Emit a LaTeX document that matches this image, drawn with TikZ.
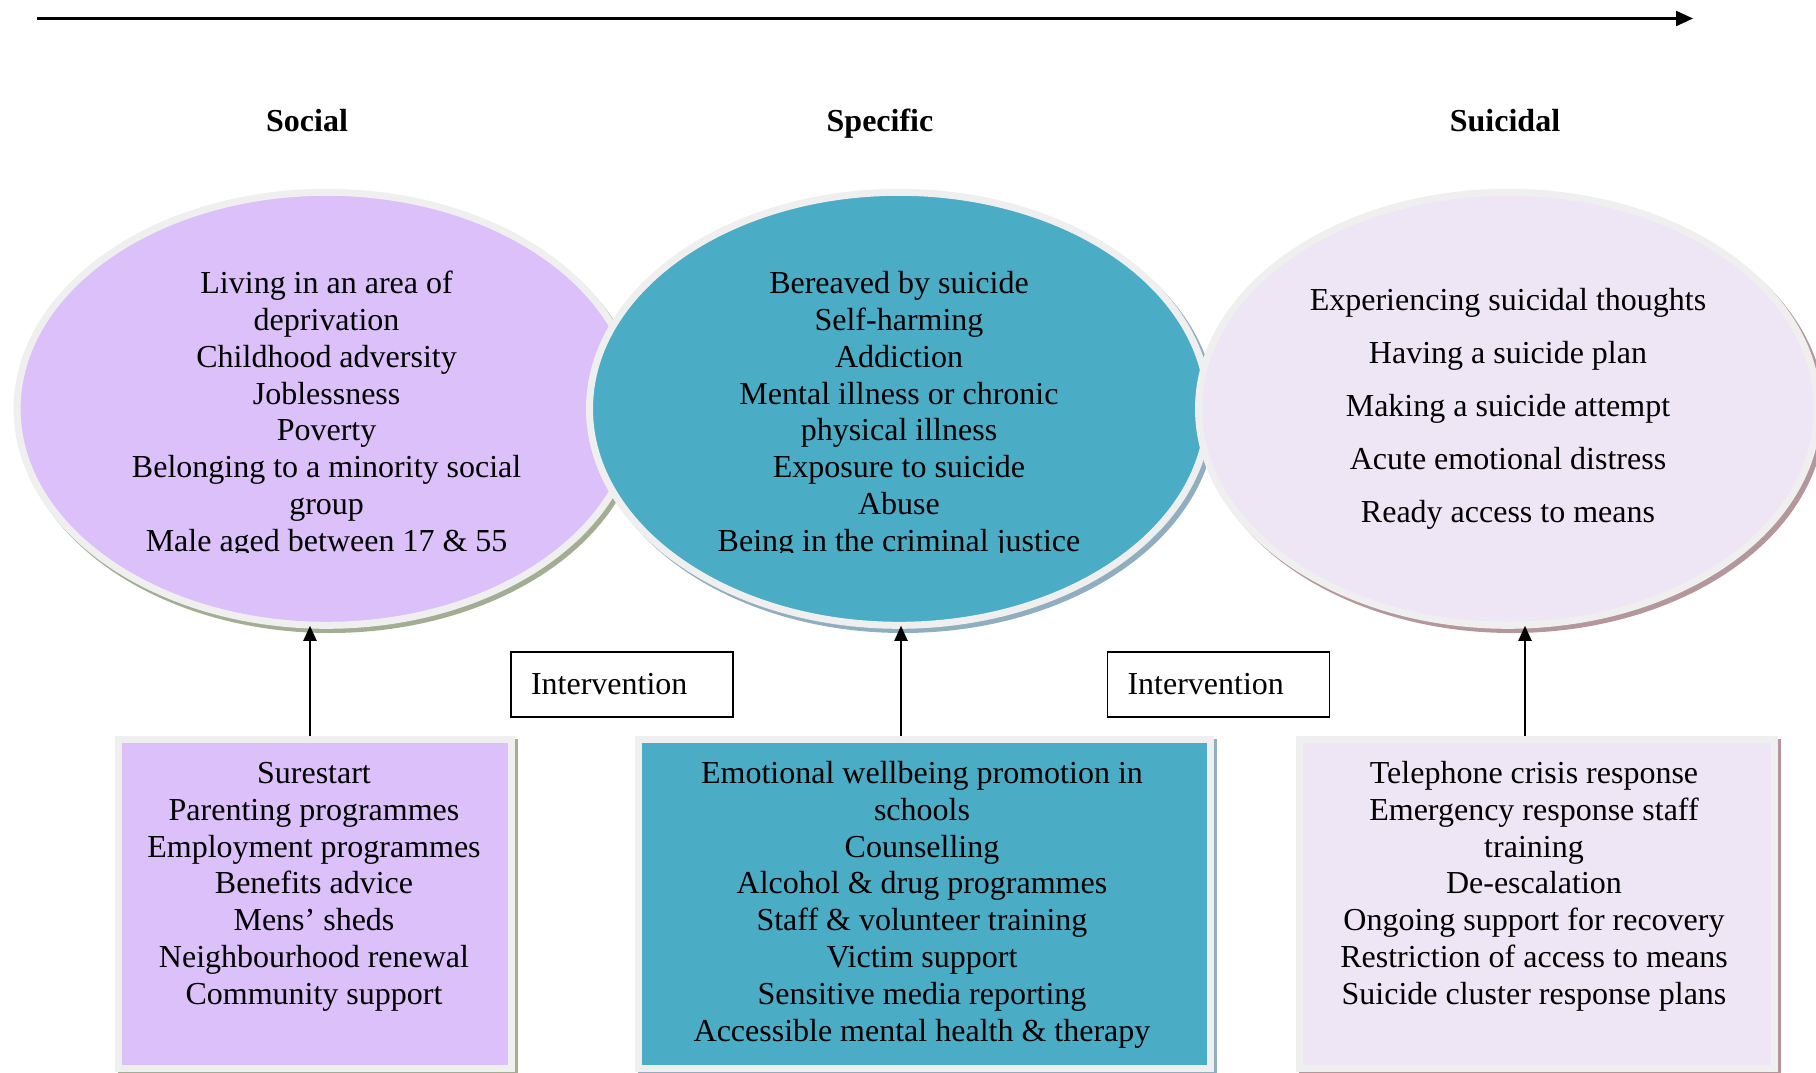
\documentclass[tikz,border=0pt]{standalone}
\usepackage{fontspec}
\setmainfont{Liberation Serif}
\usetikzlibrary{shapes.geometric,arrows.meta,calc}
\definecolor{cpurple}{HTML}{DCC0FA}
\definecolor{cteal}{HTML}{4BACC6}
\definecolor{clav}{HTML}{EEE6F5}
\definecolor{cgrey}{HTML}{EFEFEF}
\definecolor{shpurple}{HTML}{A3AD93}
\definecolor{shteal}{HTML}{8FAFC0}
\definecolor{shlav}{HTML}{B3979C}
\begin{document}
\begin{tikzpicture}[x=1pt,y=-1pt,
  ell/.style={ellipse, draw=cgrey, line width=7pt, minimum width=619pt, minimum height=433pt, inner sep=0pt},
  ellsh/.style={ellipse, minimum width=626pt, minimum height=440pt, inner sep=0pt},
  bx/.style={rectangle, draw=cgrey, line width=7pt, inner sep=0pt},
  etext/.style={align=center, font=\fontsize{32}{36.8}\selectfont, inner sep=0pt, anchor=base},
  ttl/.style={font=\fontsize{32}{38}\selectfont\bfseries, inner sep=0pt, anchor=base},
  ivbox/.style={draw=black, line width=1.5pt, minimum width=222pt, minimum height=65pt, text width=182pt, align=left, inner xsep=20pt, inner ysep=0pt, font=\fontsize{32}{38}\selectfont},
  arr/.style={line width=2pt, -{Triangle[length=15pt,width=13pt]}, shorten >=-3pt},
  toparr/.style={line width=2.2pt, -{Triangle[length=17pt,width=15pt]}}
]
\useasboundingbox (0,0) rectangle (1816,1073);
% top arrow
\coordinate (tl) at (37,18.5);
\coordinate (tr) at (1693,18.5);
\draw[toparr] (tl) -- (tr);
% titles
\node[ttl] (h1) at (307,131.2) {Social};
\node[ttl] (h2) at (880,131.2) {Specific};
\node[ttl] (h3) at (1505,131.2) {Suicidal};
% ellipse 1
\node[ellsh, fill=shpurple] (e1s) at (330,413) {};
\node[ell, fill=cpurple] (e1) at (326.6,408.8) {};
\begin{scope}
\clip (0,0) rectangle (1816,552);
\node[etext] (t1) at (326.6,551.2) {Living in an area of\\deprivation\\Childhood adversity\\Joblessness\\Poverty\\Belonging to a minority social\\group\\Male aged between 17 \& 55};
\end{scope}
% ellipse 2
\node[ellsh, fill=shteal] (e2s) at (903,413) {};
\node[ell, fill=cteal] (e2) at (899,408.8) {};
\begin{scope}
\clip (0,0) rectangle (1816,552);
\node[etext] (t2) at (899,551.2) {Bereaved by suicide\\Self-harming\\Addiction\\Mental illness or chronic\\physical illness\\Exposure to suicide\\Abuse\\Being in the criminal justice};
\end{scope}
% ellipse 3
\node[ellsh, fill=shlav] (e3s) at (1512,413) {};
\node[ell, fill=clav] (e3) at (1508,408.8) {};
\node[etext, font=\fontsize{32}{53}\selectfont] (t3) at (1508,522.4) {Experiencing suicidal thoughts\\Having a suicide plan\\Making a suicide attempt\\Acute emotional distress\\Ready access to means};
% intervention boxes
\node[ivbox] (i1) at (622,684.5) {Intervention};
\node[ivbox] (i2) at (1218.5,684.5) {Intervention};
% bottom boxes
\node[bx, fill=shpurple, minimum width=400pt, minimum height=336pt, draw=none] (b1s) at (318,907) {};
\node[bx, fill=cpurple, minimum width=393pt, minimum height=329pt] (b1) at (315,904) {};
\node[etext] (bt1) at (314,1004.3) {Surestart\\Parenting programmes\\Employment programmes\\Benefits advice\\Mens’ sheds\\Neighbourhood renewal\\Community support};
\node[bx, fill=shteal, minimum width=579pt, minimum height=336pt, draw=none] (b2s) at (927.5,907) {};
\node[bx, fill=cteal, minimum width=572pt, minimum height=329pt] (b2) at (924.5,904) {};
\node[etext] (bt2) at (922,1041.1) {Emotional wellbeing promotion in\\schools\\Counselling\\Alcohol \& drug programmes\\Staff \& volunteer training\\Victim support\\Sensitive media reporting\\Accessible mental health \& therapy};
\node[bx, fill=shlav, minimum width=482pt, minimum height=336pt, draw=none] (b3s) at (1540,907) {};
\node[bx, fill=clav, minimum width=475pt, minimum height=329pt] (b3) at (1537,904) {};
\node[etext] (bt3) at (1534,1004.3) {Telephone crisis response\\Emergency response staff\\training\\De-escalation\\Ongoing support for recovery\\Restriction of access to means\\Suicide cluster response plans};
% arrows
\draw[arr] ([xshift=-5pt]b1.north) -- ([xshift=-5pt]b1.north |- e1.south);
\draw[arr] ([xshift=-23.5pt]b2.north) -- ([xshift=-23.5pt]b2.north |- e2.south);
\draw[arr] ([xshift=-12pt]b3.north) -- ([xshift=-12pt]b3.north |- e3.south);
\end{tikzpicture}
\end{document}
